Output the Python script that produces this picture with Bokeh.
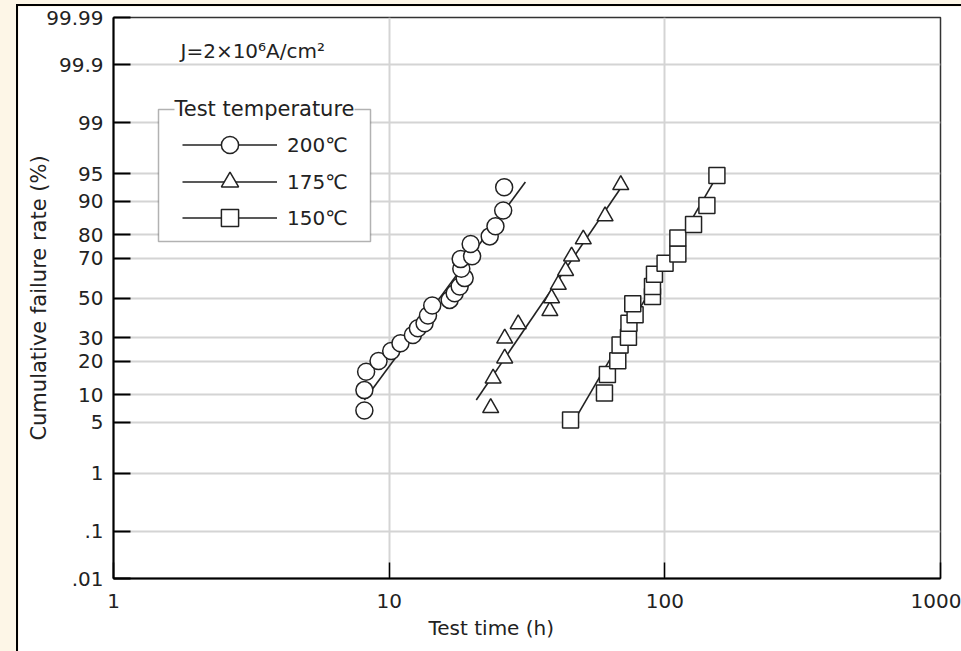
from statistics import NormalDist
from bokeh.plotting import figure
from bokeh.models import (Range1d, FixedTicker, CustomJSTickFormatter, Label, BoxAnnotation,
                          Legend, LegendItem, ColumnDataSource, Title)
from bokeh.layouts import column
from bokeh.embed import file_html
from bokeh.resources import INLINE

# ---------------- data ----------------
t200 = [8.13, 8.13, 8.25, 9.15, 10.17, 10.99, 12.19, 12.71, 13.44, 13.83, 14.33, 16.57,
        17.28, 18.02, 18.79, 18.27, 18.17, 19.99, 19.75, 23.16, 24.30, 25.92, 26.13]
f200 = [6.8, 11.1, 16.4, 20.2, 24.1, 27.4, 31.2, 34.4, 36.9, 40.8, 46.0, 49.0,
        52.5, 56.1, 60.4, 65.1, 69.7, 71.0, 76.3, 79.3, 82.9, 87.7, 92.9]

t175 = [23.35, 23.83, 26.25, 26.25, 29.38, 38.28, 38.82, 41.07, 43.65, 45.9, 50.6, 60.7, 69.2]
f175 = [7.25, 14.3, 21.2, 29.6, 36.5, 43.2, 49.9, 57.0, 64.1, 71.0, 78.2, 86.1, 93.3]

t150 = [45.5, 60.4, 61.9, 67.5, 68.8, 73.8, 74.1, 78.0, 76.5, 90.2, 90.2, 91.7,
        100.2, 111.5, 111.5, 127.1, 142.1, 154.5]
f150 = [5.3, 10.4, 15.5, 20.3, 26.7, 30.1, 36.9, 41.2, 46.9, 50.8, 56.1, 62.4,
        67.8, 72.0, 78.7, 83.5, 89.0, 94.8]

fit200_t = [8.13, 31.2]
fit200_f = [8.8, 93.8]
fit175_t = [20.7, 69.5]
fit175_f = [8.8, 92.9]
fit150_t = [48.6, 150.7]
fit150_f = [6.3, 93.9]

series_labels = ["200℃", "175℃", "150℃"]

y_tick_pct = [0.01, 0.1, 1, 5, 10, 20, 30, 50, 70, 80, 90, 95, 99, 99.9, 99.99]
y_tick_labels = [".01", ".1", "1", "5", "10", "20", "30", "50", "70", "80", "90", "95",
                 "99", "99.9", "99.99"]
x_ticks = [1, 10, 100, 1000]
x_tick_labels = ["1", "10", "100", "1000"]

# ---------------- helpers ----------------
nd = NormalDist()


def probit(pcts):
    return [nd.inv_cdf(v / 100.0) for v in pcts]


FONT = "DejaVu Sans"
TXT = "#222222"

zlo = probit([0.01])[0]
zhi = probit([99.99])[0]

p = figure(x_axis_type="log", x_range=Range1d(1, 1000), y_range=Range1d(zlo, zhi),
           frame_width=825, frame_height=559,
           min_border_left=95, min_border_right=23, min_border_top=11, min_border_bottom=75,
           output_backend="svg", toolbar_location=None,
           background_fill_color="white", border_fill_color="white")
p.outline_line_color = "#333333"
p.outline_line_width = 1.5

# axes
p.xaxis.ticker = FixedTicker(ticks=x_ticks, minor_ticks=[])
p.xaxis.formatter = CustomJSTickFormatter(args=dict(tk=x_ticks, lbl=x_tick_labels), code="""
let best = 0, d = 1e99;
for (let i = 0; i < tk.length; i++) {
  const e = Math.abs(Math.log10(tk[i]) - Math.log10(tick));
  if (e < d) { d = e; best = i; }
}
return lbl[best];
""")
ytz = probit(y_tick_pct)
p.yaxis.ticker = FixedTicker(ticks=ytz, minor_ticks=[])
p.yaxis.formatter = CustomJSTickFormatter(args=dict(tk=ytz, lbl=y_tick_labels), code="""
let best = 0, d = 1e99;
for (let i = 0; i < tk.length; i++) {
  const e = Math.abs(tk[i] - tick);
  if (e < d) { d = e; best = i; }
}
return lbl[best];
""")

for ax in (p.xaxis[0], p.yaxis[0]):
    ax.axis_line_color = "black"
    ax.axis_line_width = 2
    ax.major_tick_line_color = "black"
    ax.major_tick_out = 0
    ax.minor_tick_line_color = None
    ax.major_label_text_font = FONT
    ax.major_label_text_font_size = "20px"
    ax.major_label_text_color = TXT
p.xaxis.major_tick_in = 16
p.xaxis.major_tick_line_width = 1.5
p.xaxis.major_label_standoff = 15
p.yaxis.major_tick_in = 17
p.yaxis.major_tick_line_width = 2
p.yaxis.major_label_standoff = 10

# y axis title
p.yaxis.axis_label = "Cumulative failure rate (%)"
p.yaxis.axis_label_text_font = FONT
p.yaxis.axis_label_text_font_size = "21px"
p.yaxis.axis_label_text_font_style = "normal"
p.yaxis.axis_label_text_color = TXT
p.yaxis.axis_label_standoff = -8

p.xgrid.ticker = FixedTicker(ticks=x_ticks)
p.ygrid.ticker = FixedTicker(ticks=ytz)
for g in (p.xgrid[0], p.ygrid[0]):
    g.grid_line_color = "#d4d4d4"
    g.grid_line_width = 2

# x axis title (offset to match the reference's position)
p.add_layout(Title(text="Test time (h)", align="left", offset=315, standoff=6,
                   text_font=FONT, text_font_size="20px", text_font_style="normal",
                   text_color=TXT), "below")

# legend frame (fieldset style) drawn first so legend sits above it
box = BoxAnnotation(left=45, right=257, top=469, bottom=337,
                    left_units="screen", right_units="screen",
                    top_units="screen", bottom_units="screen",
                    fill_color="white", fill_alpha=1.0,
                    line_color="black", line_width=1.5)
p.add_layout(box)

# data
styles = [
    ("circle", t200, f200, fit200_t, fit200_f, 17),
    ("triangle", t175, f175, fit175_t, fit175_f, 16),
    ("square", t150, f150, fit150_t, fit150_f, 16),
]
items = []
for (marker, tt, ff, lt, lf, size), lab in zip(styles, series_labels):
    lr = p.line(x=lt, y=probit(lf), line_color="#222222", line_width=1.6)
    src = ColumnDataSource(dict(t=tt, z=probit(ff)))
    sr = p.scatter(x="t", y="z", source=src, marker=marker, size=size,
                   fill_color="white", line_color="#222222", line_width=1.5)
    items.append(LegendItem(label=lab, renderers=[lr, sr]))

# one legend per row so rows can be spaced tighter than the glyph box
row_bottoms = [412, 375, 339]
for item, yb in zip(items, row_bottoms):
    lg = Legend(items=[item], location=(69, yb), orientation="vertical",
                glyph_width=95, glyph_height=43, label_standoff=10, spacing=0,
                padding=0, margin=0, border_line_color=None,
                background_fill_alpha=0.0,
                label_text_font=FONT, label_text_font_size="20px",
                label_text_color=TXT)
    p.add_layout(lg)

# legend title on the border
p.add_layout(Label(x=151, y=470, x_units="screen", y_units="screen",
                   text="Test temperature", text_font=FONT, text_font_size="21px",
                   text_color=TXT, text_align="center", text_baseline="middle",
                   background_fill_color="white", background_fill_alpha=1.0))

# current density note
p.add_layout(Label(x=67, y=528, x_units="screen", y_units="screen",
                   text="J=2×10⁶A/cm²", text_font=FONT, text_font_size="20px",
                   text_color=TXT, text_align="left", text_baseline="middle"))

p.styles = {"border-left": "2px solid black", "border-top": "2px solid black"}
page = column(p, width=961, height=651,
              styles={"background-color": "#fdf6e7", "padding-left": "16px",
                      "padding-top": "4px", "box-sizing": "border-box"})

open("out.html", "w").write(file_html(page, INLINE))
